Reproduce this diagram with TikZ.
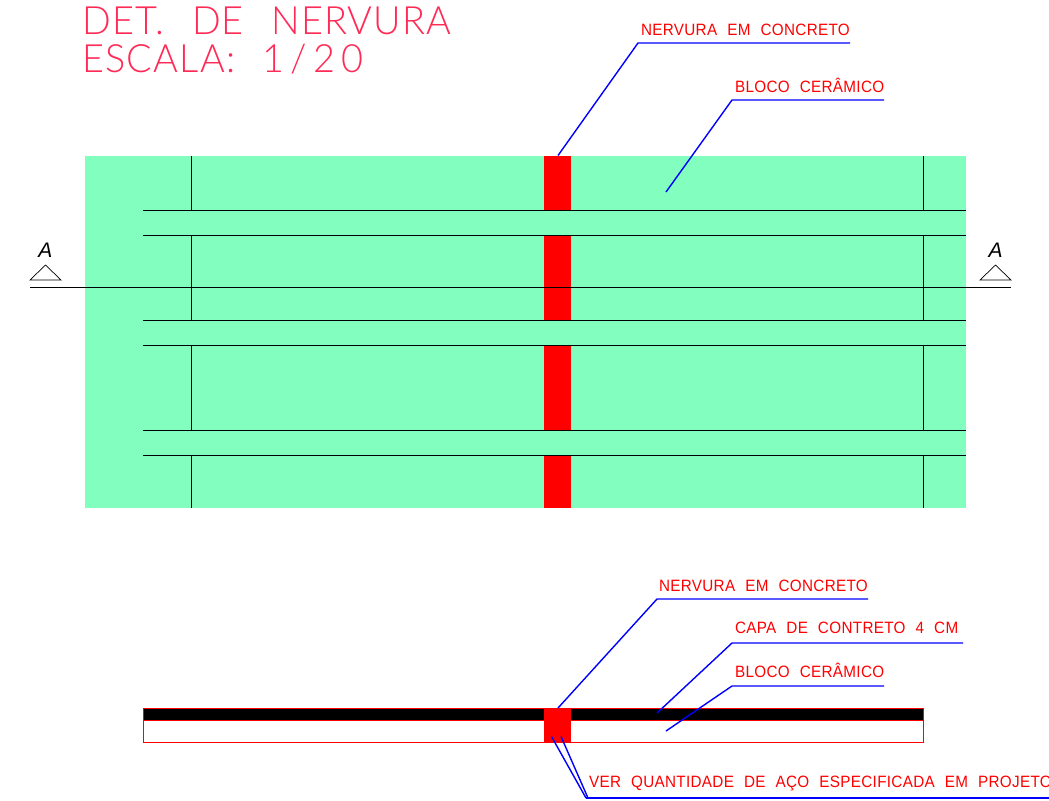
\documentclass[tikz,border=0pt]{standalone}
\usepackage{fontspec}
\setmainfont{Liberation Sans}
\newfontfamily\calloutfont[LetterSpace=2,WordSpace=2.2,FakeStretch=0.93]{Liberation Sans}
\newfontfamily\titlefont[LetterSpace=3,WordSpace=2.4,FakeStretch=0.97]{Lato Light}
\definecolor{blockgreen}{HTML}{82FFBF}
\definecolor{titlered}{HTML}{FF2A55}
\begin{document}
\begin{tikzpicture}
      [
        x=0.5pt, y=-0.5pt,
        Callout/.style={anchor=base west, inner sep=0pt, outer sep=0pt, text=red, font=\calloutfont\fontsize{8.2}{10}\selectfont},
        Title/.style={anchor=base west, inner sep=0pt, outer sep=0pt, text=titlered, font=\titlefont\fontsize{19.5}{22}\selectfont},
        Leader/.style={draw=blue, line width=0.7pt},
        Rib/.style={line width=0.4pt, draw=black},
        SectionMark/.style={font=\itshape\fontsize{10.5}{11}\selectfont, inner sep=0pt},
      ]
      \useasboundingbox (0,0) rectangle (1049,800);

      \node [Title] (title1) at (82.5,34.5) {DET. DE NERVURA};
      \node [Title] (title2) at (82.5,72) {ESCALA: {\addfontfeature{LetterSpace=16}1/20}};

      % plan
      \fill [blockgreen] (84.5,155.5) rectangle (966,508);
      \foreach \ya/\yb in {155.5/210, 235/320, 345/430, 455/508} {
        \fill [red] (544,\ya) rectangle (571,\yb);
        \draw [Rib] (191.5,\ya) -- (191.5,\yb);
        \draw [Rib] (923,\ya) -- (923,\yb);
      }
      \foreach \y in {210,235,320,345,430,455}
        \draw [Rib] (143,\y) -- (966,\y);

      % section line
      \coordinate (cutL) at (30,287);
      \coordinate (cutR) at (1011,287);
      \draw [Rib] (cutL) -- (cutR);
      \draw [draw=black, line width=0.35pt] (30,280) -- (45.5,265) -- (61,280) -- cycle;
      \draw [draw=black, line width=0.35pt] (980,280) -- (995.5,265) -- (1011,280) -- cycle;
      \node [SectionMark] (markL) at (45.5,250) {A};
      \node [SectionMark] (markR) at (995.5,250) {A};

      % section
      \draw [red, line width=0.5pt] (143,708) rectangle (923,742);
      \fill [black] (143.5,709) rectangle (923,719.5);
      \draw [red, line width=0.5pt] (143,720) -- (923,720);
      \fill [red] (544,708) rectangle (571,742);

      % callouts
      \node [Callout] (nervuraTop) at (641,35.5) {NERVURA EM CONCRETO};
      \node [Callout] (blocoTop) at (735,92) {BLOCO CERÂMICO};
      \node [Callout] (nervuraLow) at (659,591.5) {NERVURA EM CONCRETO};
      \node [Callout] (capa) at (735,633) {CAPA DE CONTRETO 4 CM};
      \node [Callout] (blocoLow) at (735,677) {BLOCO CERÂMICO};
      \node [Callout] (aco) at (589,787) {VER QUANTIDADE DE AÇO ESPECIFICADA EM PROJETO};

      \draw [Leader] (558,155.5) -- (638,43) -- (850,43);
      \draw [Leader] (666,192) -- (732,100) -- (884,100);
      \draw [Leader] (558,708) -- (657,599) -- (868,599);
      \draw [Leader] (657,713) -- (732,643) -- (963,643);
      \draw [Leader] (666,731) -- (732,686) -- (884,686);
      \draw [Leader] (551.5,736.5) -- (586,798);
      \draw [Leader] (561,736.5) -- (588,798);
      \draw [Leader] (586,798) -- (1049,798);
\end{tikzpicture}
\end{document}
